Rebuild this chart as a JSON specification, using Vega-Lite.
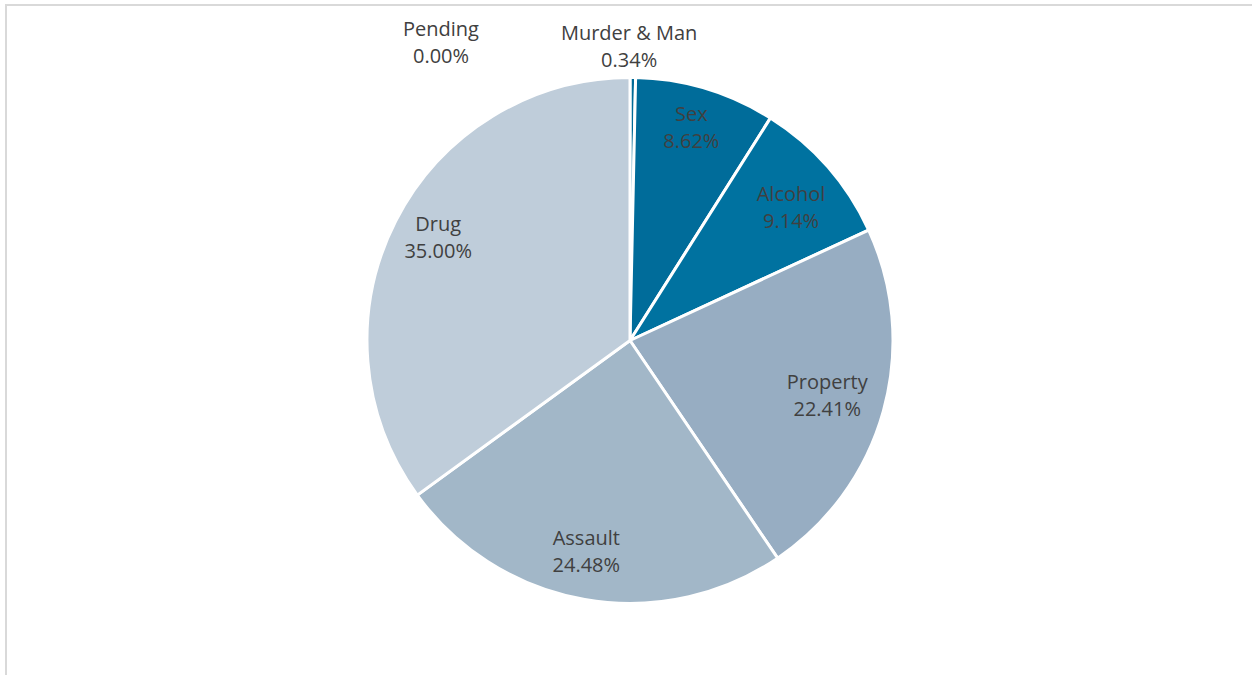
{
  "$schema": "https://vega.github.io/schema/vega-lite/v6.json",
  "width": 1248,
  "height": 671,
  "padding": {"left": 6, "top": 5, "right": 0, "bottom": 0},
  "autosize": {"type": "none"},
  "background": "white",
  "view": {"stroke": "#d9d9d9", "strokeWidth": 2},
  "config": {"text": {"font": "Open Sans", "fontSize": 20, "lineHeight": 27, "lineBreak": "\n", "color": "#404040"}},
  "data": {
    "values": [
      {"cat": "Pending", "value": 0.0, "ord": 0, "label": "Pending\n0.00%"},
      {"cat": "Murder & Man", "value": 0.34, "ord": 1, "label": "Murder & Man\n0.34%"},
      {"cat": "Sex", "value": 8.62, "ord": 2, "label": "Sex\n8.62%"},
      {"cat": "Alcohol", "value": 9.14, "ord": 3, "label": "Alcohol\n9.14%"},
      {"cat": "Property", "value": 22.41, "ord": 4, "label": "Property\n22.41%"},
      {"cat": "Assault", "value": 24.48, "ord": 5, "label": "Assault\n24.48%"},
      {"cat": "Drug", "value": 35.0, "ord": 6, "label": "Drug\n35.00%"}
    ]
  },
  "transform": [
    {"stack": "value", "groupby": [], "sort": [{"field": "ord", "order": "ascending"}], "as": ["v0", "v1"]},
    {"calculate": "(datum.v0 + datum.v1) / 2", "as": "mid"}
  ],
  "layer": [
    {
      "mark": {"type": "arc", "outerRadius": 263, "stroke": "white", "strokeWidth": 3},
      "encoding": {
        "theta": {"field": "v0", "type": "quantitative", "scale": {"domain": [0, 99.99], "zero": true, "nice": false}},
        "theta2": {"field": "v1"},
        "color": {
          "field": "cat",
          "type": "nominal",
          "scale": {
            "domain": ["Pending", "Murder & Man", "Sex", "Alcohol", "Property", "Assault", "Drug"],
            "range": ["#bfcdda", "#006a96", "#006c9a", "#0072a0", "#97adc2", "#a2b7c8", "#bfcdda"]
          },
          "legend": null
        }
      }
    },
    {
      "transform": [{"filter": "datum.cat == 'Sex'"}],
      "mark": {"type": "text", "radius": 213, "dy": -22},
      "encoding": {"theta": {"field": "mid", "type": "quantitative"}, "text": {"field": "label", "type": "nominal"}}
    },
    {
      "transform": [{"filter": "datum.cat == 'Alcohol'"}],
      "mark": {"type": "text", "radius": 213, "dx": 1, "dy": -5},
      "encoding": {"theta": {"field": "mid", "type": "quantitative"}, "text": {"field": "label", "type": "nominal"}}
    },
    {
      "transform": [{"filter": "datum.cat == 'Property'"}],
      "mark": {"type": "text", "radius": 213, "dx": -8, "dy": -14},
      "encoding": {"theta": {"field": "mid", "type": "quantitative"}, "text": {"field": "label", "type": "nominal"}}
    },
    {
      "transform": [{"filter": "datum.cat == 'Assault'"}],
      "mark": {"type": "text", "radius": 213, "dx": -7, "dy": -11},
      "encoding": {"theta": {"field": "mid", "type": "quantitative"}, "text": {"field": "label", "type": "nominal"}}
    },
    {
      "transform": [{"filter": "datum.cat == 'Drug'"}],
      "mark": {"type": "text", "radius": 213, "dx": -2, "dy": -19},
      "encoding": {"theta": {"field": "mid", "type": "quantitative"}, "text": {"field": "label", "type": "nominal"}}
    },
    {
      "transform": [{"filter": "datum.cat == 'Murder & Man'"}],
      "mark": {"type": "text", "radius": 293, "dx": -4, "dy": -14},
      "encoding": {"theta": {"field": "mid", "type": "quantitative"}, "text": {"field": "label", "type": "nominal"}}
    },
    {
      "transform": [{"filter": "datum.cat == 'Pending'"}],
      "mark": {"type": "text", "radius": 296, "dx": -189, "dy": -15},
      "encoding": {"theta": {"field": "mid", "type": "quantitative"}, "text": {"field": "label", "type": "nominal"}}
    }
  ]
}
